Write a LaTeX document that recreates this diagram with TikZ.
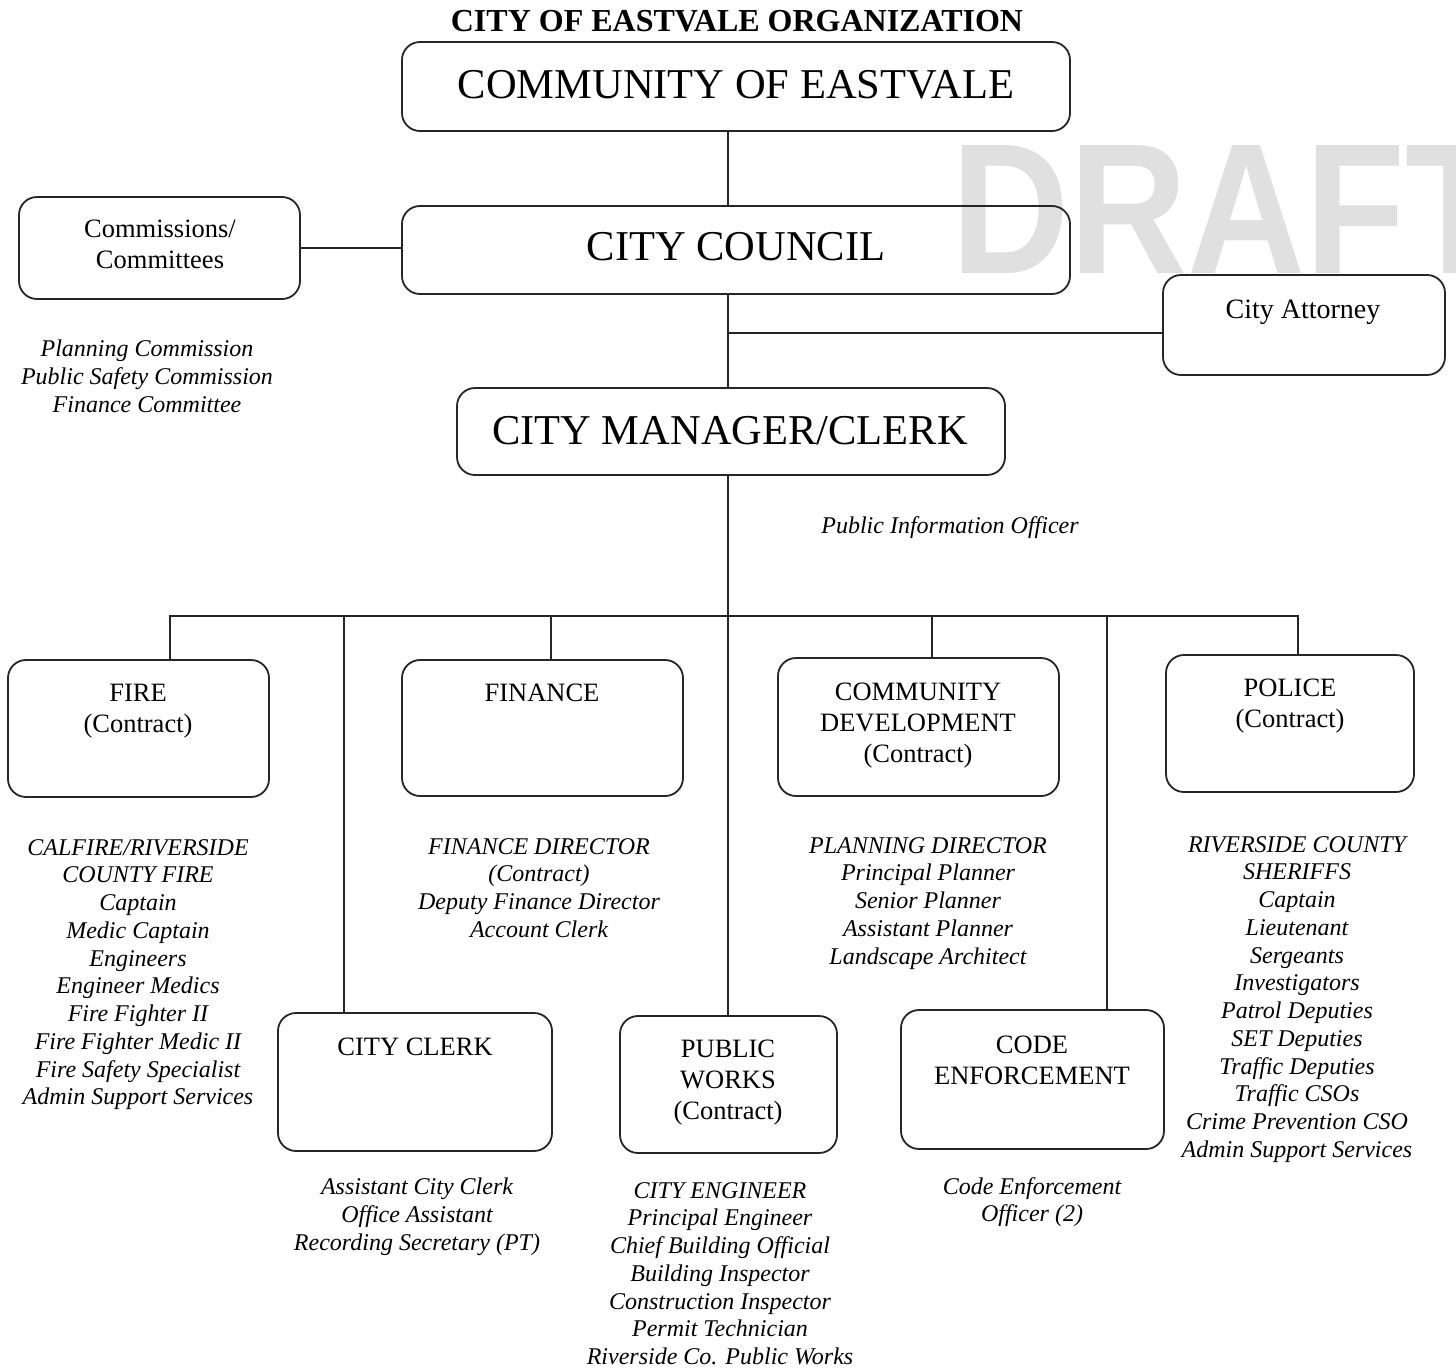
\documentclass[tikz,border=0pt]{standalone}
\usepackage{fontspec}
\setmainfont{Liberation Serif}
\newfontfamily\wmfont{Liberation Sans}
\begin{document}
\begin{tikzpicture}[x=1pt,y=-1pt,
  box/.style={draw=black!85, line width=1.8pt, rounded corners=18pt, inner sep=0pt, outer sep=0pt},
  link/.style={draw=black!85, line width=1.6pt},
  headline/.style={font=\fontsize{42.5}{48}\selectfont, inner sep=0pt, anchor=base},
  boxtxt/.style={font=\fontsize{26.5}{31}\selectfont, align=center, inner sep=0pt, anchor=north},
  staff/.style={font=\fontsize{24}{27.75}\selectfont\itshape, align=center, inner sep=0pt, anchor=north},
]
\useasboundingbox (0,0) rectangle (1456,1368);
\fill[white] (0,0) rectangle (1456,1368);
\clip (0,0) rectangle (1456,1368);

% watermark
\node[anchor=base west, inner sep=0pt, text=black!12, xscale=0.88,
      font=\wmfont\bfseries\fontsize{186}{186}\selectfont] (wm) at (951,273) {DRAFT};

% title
\node[inner sep=0pt, anchor=base, font=\fontsize{32}{36}\selectfont\bfseries] (title) at (737,31.5) {CITY OF EASTVALE ORGANIZATION};

% boxes
\node[box, minimum width=668, minimum height=89] (com) at (736,86.5) {};
\node[box, minimum width=668, minimum height=88] (cc) at (736,250) {};
\node[box, minimum width=281, minimum height=102] (cmte) at (159.5,248) {};
\node[box, minimum width=282, minimum height=100] (att) at (1304,325) {};
\node[box, minimum width=548, minimum height=87] (mgr) at (731,431.5) {};
\node[box, minimum width=261, minimum height=137] (fire) at (138.5,728.5) {};
\node[box, minimum width=281, minimum height=136] (fin) at (542.5,728) {};
\node[box, minimum width=281, minimum height=138] (cd) at (918.5,727) {};
\node[box, minimum width=248, minimum height=137] (pol) at (1290,723.5) {};
\node[box, minimum width=274, minimum height=138] (clk) at (415,1082) {};
\node[box, minimum width=217, minimum height=137] (pw) at (728.5,1084.5) {};
\node[box, minimum width=263, minimum height=139] (code) at (1032.5,1079.5) {};

% box titles
\node[headline] (comT) at (736,98) {COMMUNITY OF EASTVALE};
\node[headline] (ccT) at (736,260) {CITY COUNCIL};
\node[headline] (mgrT) at (730,444) {CITY MANAGER/CLERK};
\node[inner sep=0pt, anchor=base, font=\fontsize{28}{32}\selectfont] (attT) at (1303,318) {City Attorney};
\node[boxtxt] (cmteT) at (160,219.5) {Commissions/\\Committees};
\node[boxtxt] (fireT) at (138,683.5) {FIRE\\(Contract)};
\node[boxtxt] (finT) at (542,683.5) {FINANCE};
\node[boxtxt] (cdT) at (918,682.5) {COMMUNITY\\DEVELOPMENT\\(Contract)};
\node[boxtxt] (polT) at (1290,678.5) {POLICE\\(Contract)};
\node[boxtxt] (clkT) at (415,1037.5) {CITY CLERK};
\node[boxtxt] (pwT) at (728,1039.5) {PUBLIC\\WORKS\\(Contract)};
\node[boxtxt] (codeT) at (1032,1035.5) {CODE\\ENFORCEMENT};

% staff lists
\node[staff] (cmteL) at (147,340) {Planning Commission\\Public Safety Commission\\Finance Committee};
\node[staff, anchor=base] (pio) at (950,533) {Public Information Officer};
\node[staff] (fireL) at (138,839) {CALFIRE/RIVERSIDE\\COUNTY FIRE\\Captain\\Medic Captain\\Engineers\\Engineer Medics\\Fire Fighter II\\Fire Fighter Medic II\\Fire Safety Specialist\\Admin Support Services};
\node[staff] (finL) at (539,838) {FINANCE DIRECTOR\\(Contract)\\Deputy Finance Director\\Account Clerk};
\node[staff] (cdL) at (928,837) {PLANNING DIRECTOR\\Principal Planner\\Senior Planner\\Assistant Planner\\Landscape Architect};
\node[staff] (polL) at (1297,836) {RIVERSIDE COUNTY\\SHERIFFS\\Captain\\Lieutenant\\Sergeants\\Investigators\\Patrol Deputies\\SET Deputies\\Traffic Deputies\\Traffic CSOs\\Crime Prevention CSO\\Admin Support Services};
\node[staff] (clkL) at (417,1178) {Assistant City Clerk\\Office Assistant\\Recording Secretary (PT)};
\node[staff] (pwL) at (720,1182) {CITY ENGINEER\\Principal Engineer\\Chief Building Official\\Building Inspector\\Construction Inspector\\Permit Technician\\Riverside Co. Public Works};
\node[staff] (codeL) at (1032,1177) {Code Enforcement\\Officer (2)};

% connectors
\coordinate (j1) at (728,333);
\draw[link] (com.south -| j1) -- (cc.north -| j1);
\draw[link] (cc.south -| j1) -- (mgr.north -| j1);
\draw[link] (j1) -- (j1 -| att.west);
\draw[link] (cmte.east) -- (cmte.east -| cc.west);
\draw[link] (mgr.south -| j1) -- (pw.north -| j1);

\coordinate (bL) at (170,616);
\coordinate (bR) at (1298,616);
\coordinate (dClk) at (344,616);
\coordinate (dFin) at (551,616);
\coordinate (dCd) at (932,616);
\coordinate (dCode) at (1107,616);
\draw[link] (bL |- fire.north) -- (bL) -- (bR) -- (bR |- pol.north);
\draw[link] (dClk) -- (dClk |- clk.north);
\draw[link] (dFin) -- (dFin |- fin.north);
\draw[link] (dCd) -- (dCd |- cd.north);
\draw[link] (dCode) -- (dCode |- code.north);
\end{tikzpicture}
\end{document}
